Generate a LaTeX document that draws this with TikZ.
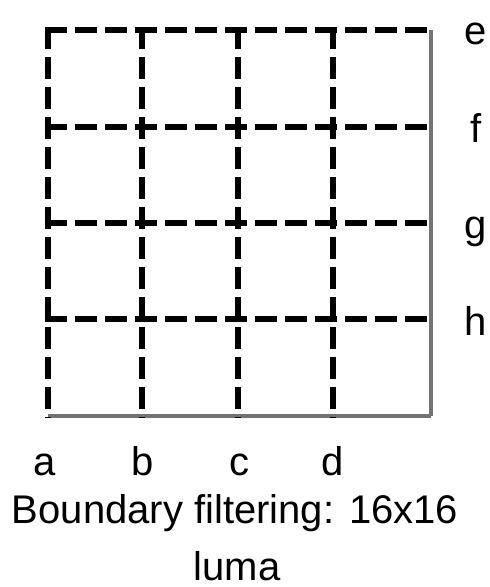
\documentclass[tikz,border=0pt]{standalone}
\usepackage{fontspec}
\setmainfont{Liberation Sans}
\tikzset{
  gridsolid/.style={draw=black!55, line width=3.2pt},
  griddash/.style={draw=black, line width=5.5pt, dash pattern=on 22pt off 8pt},
  lbl/.style={inner sep=0pt, font=\fontsize{40}{48}\selectfont},
  caption/.style={inner sep=0pt, font=\fontsize{40}{48}\selectfont}
}
\begin{document}
\begin{tikzpicture}[x=1pt,y=-1pt]
\useasboundingbox (0,0) rectangle (490,587);
% corners / grid coordinates
\coordinate (tl) at (48,30);
\coordinate (tr) at (431,30);
\coordinate (bl) at (48,416);
\coordinate (br) at (431,416);
% solid right and bottom edges
\draw[gridsolid] (tr) -- (br);
\draw[gridsolid] (bl) -- (br);
% vertical dashed lines
\foreach \x/\n in {48/a,142/b,238/c,333/d}{
  \coordinate (v\n top) at (\x,27);
  \coordinate (v\n bot) at (\x,418);
  \draw[griddash] (v\n top) -- (v\n bot);
}
% horizontal dashed lines
\foreach \y/\n in {30/e,127/f,223/g,319/h}{
  \coordinate (h\n left) at (45,\y);
  \coordinate (h\n right) at (434,\y);
  \draw[griddash] (h\n left) -- (h\n right);
}
% column labels
\node[lbl, anchor=base] (la) at (45,475) {a};
\node[lbl, anchor=base] (lb) at (143,475) {b};
\node[lbl, anchor=base] (lc) at (239,475) {c};
\node[lbl, anchor=base] (ld) at (333,475) {d};
% row labels
\node[lbl, anchor=base west] (le) at (464,44) {e};
\node[lbl, anchor=base west] (lf) at (470,142) {f};
\node[lbl, anchor=base west] (lg) at (464,238) {g};
\node[lbl, anchor=base west] (lh) at (464,335) {h};
% caption
\node[caption, anchor=base] (cap1) at (235,523) {Boundary filtering: 16x16};
\node[caption, anchor=base] (cap2) at (237,580) {luma};
\end{tikzpicture}
\end{document}
